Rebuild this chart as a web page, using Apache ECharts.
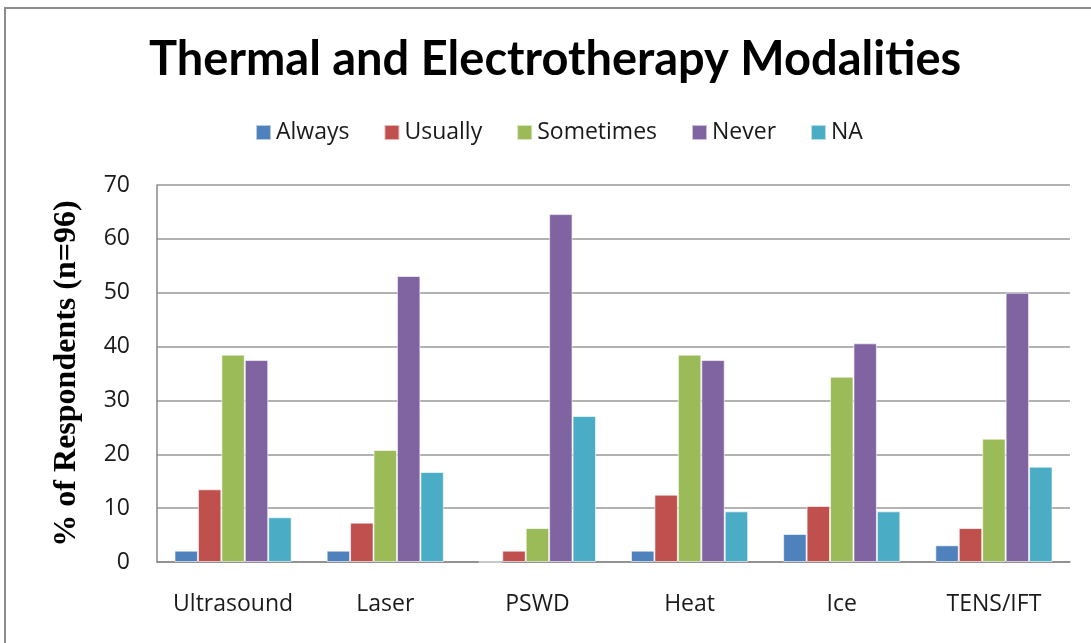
<!DOCTYPE html>
<html>
<head>
<meta charset="utf-8">
<script src="https://cdn.jsdelivr.net/npm/echarts@6/dist/echarts.min.js"></script>
<style>
  html, body { margin: 0; padding: 0; background: #fff; }
</style>
</head>
<body>
<div id="chart" style="width: 1091px; height: 643px;"></div>
<script>
var categories = ['Ultrasound', 'Laser', 'PSWD', 'Heat', 'Ice', 'TENS/IFT']
var seriesNames = ['Always', 'Usually', 'Sometimes', 'Never', 'NA']
var always = [2.1, 2.1, 0, 2.1, 5.2, 3.1]
var usually = [13.5, 7.3, 2.1, 12.5, 10.4, 6.3]
var sometimes = [38.5, 20.8, 6.3, 38.5, 34.4, 22.9]
var never = [37.5, 53.1, 64.6, 37.5, 40.6, 50.0]
var na = [8.3, 16.7, 27.1, 9.4, 9.4, 17.7]
var yTicks = [0, 10, 20, 30, 40, 50, 60, 70]

var colors = ['#4F81BD', '#C0504D', '#9BBB59', '#8064A2', '#4BACC6']
var values = [always, usually, sometimes, never, na]
var labelFont = '"Open Sans", "Liberation Sans", sans-serif'

const myChart = echarts.init(document.getElementById('chart'))
myChart.setOption({
  animation: false,
  color: colors,
  title: {
    text: 'Thermal and Electrotherapy Modalities',
    left: 144,
    top: 31,
    textStyle: {
      fontFamily: 'Lato, "Liberation Sans", sans-serif',
      fontWeight: 'bold',
      fontSize: 47,
      color: '#000'
    }
  },
  legend: {
    data: seriesNames,
    top: 116,
    left: 250,
    itemWidth: 15,
    itemHeight: 15,
    itemGap: 34,
    icon: 'rect',
    textStyle: {
      fontFamily: labelFont,
      fontSize: 23,
      color: '#1a1a1a'
    }
  },
  // frame around the chart
  graphic: [{
    type: 'rect',
    shape: { x: 5, y: 8, width: 1200, height: 800 },
    style: { fill: 'none', stroke: '#8c8c8c', lineWidth: 2 }
  }],
  grid: {
    left: 157,
    right: 21,
    top: 185,
    bottom: 81
  },
  xAxis: {
    type: 'category',
    data: categories,
    axisTick: { show: false },
    axisLine: { lineStyle: { color: '#888', width: 1.5 } },
    axisLabel: {
      interval: 0,
      margin: 31,
      fontFamily: labelFont,
      fontSize: 23,
      color: '#1a1a1a'
    }
  },
  yAxis: {
    type: 'value',
    min: yTicks[0],
    max: yTicks[yTicks.length - 1],
    interval: 10,
    name: '% of Respondents (n=96)',
    nameLocation: 'middle',
    nameGap: 74,
    nameTextStyle: {
      fontFamily: '"Liberation Serif", serif',
      fontWeight: 'bold',
      fontSize: 32,
      color: '#000'
    },
    axisTick: { show: false },
    axisLine: { show: true, lineStyle: { color: '#888', width: 1.5 } },
    axisLabel: {
      margin: 27,
      fontFamily: labelFont,
      fontSize: 23,
      color: '#1a1a1a'
    },
    splitLine: { lineStyle: { color: '#999', width: 1.5 } }
  },
  series: seriesNames.map(function(name, i) {
    return {
      name: name,
      type: 'bar',
      data: values[i],
      barGap: '0%',
      barCategoryGap: '23%',
      itemStyle: {
        borderColor: 'rgba(255,255,255,0.6)',
        borderWidth: 1
      }
    }
  })
})
</script>
</body>
</html>
